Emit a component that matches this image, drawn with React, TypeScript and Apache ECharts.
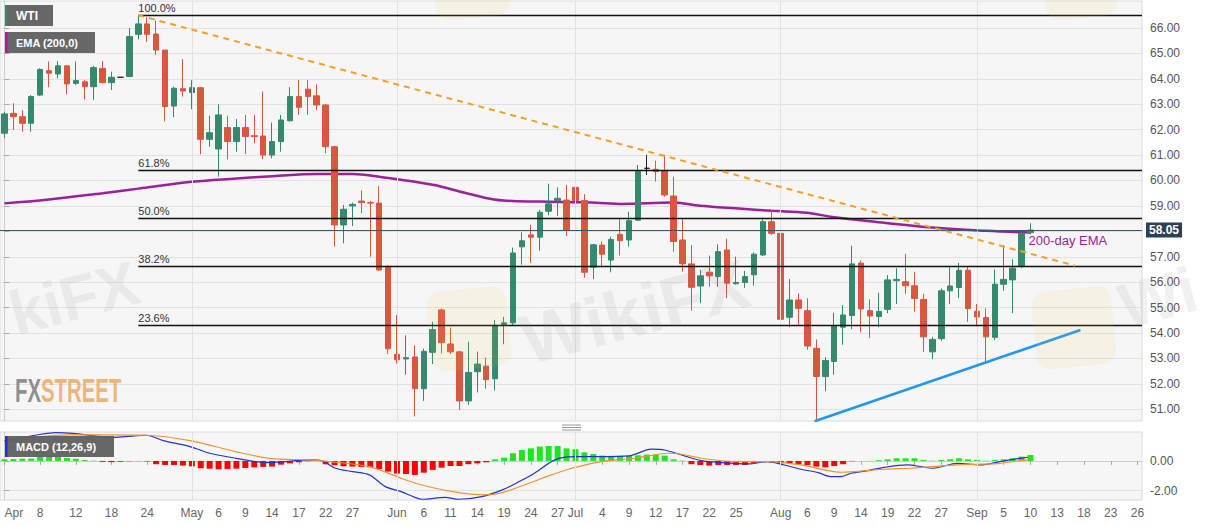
import React, { useEffect, useRef } from 'react';
import * as echarts from 'echarts';

// ---------- calendar (weekdays shown on the chart) ----------
function buildWeekdays(start: string, end: string): string[] {
  const out: string[] = [];
  const d = new Date(start + 'T00:00:00Z');
  const e = new Date(end + 'T00:00:00Z');
  while (d <= e) {
    const wd = d.getUTCDay();
    if (wd !== 0 && wd !== 6) out.push(d.toISOString().slice(0, 10));
    d.setUTCDate(d.getUTCDate() + 1);
  }
  return out;
}
const categories = buildWeekdays('2019-04-02', '2019-09-26');

const tickDates = [
  '2019-04-02', '2019-04-08', '2019-04-12', '2019-04-18', '2019-04-24',
  '2019-05-01', '2019-05-06', '2019-05-09', '2019-05-14', '2019-05-17', '2019-05-22', '2019-05-27',
  '2019-06-03', '2019-06-06', '2019-06-11', '2019-06-14', '2019-06-19', '2019-06-24', '2019-06-27',
  '2019-07-01', '2019-07-04', '2019-07-09', '2019-07-12', '2019-07-17', '2019-07-22', '2019-07-25',
  '2019-08-01', '2019-08-06', '2019-08-09', '2019-08-14', '2019-08-19', '2019-08-22', '2019-08-27',
  '2019-09-02', '2019-09-05', '2019-09-10', '2019-09-13', '2019-09-18', '2019-09-23', '2019-09-26',
];
const monthStarts = ['2019-04-02', '2019-05-01', '2019-06-03', '2019-07-01', '2019-08-01', '2019-09-02'];
const monthNames = ['Jan', 'Feb', 'Mar', 'Apr', 'May', 'Jun', 'Jul', 'Aug', 'Sep', 'Oct', 'Nov', 'Dec'];

// ---------- WTI daily OHLC (Apr 2 .. Sep 10) ----------
const opens = [
  61.86, 62.64, 62.51, 62.25, 63.36, 64.32, 64.19, 64.51, 63.82, 63.88, 63.69, 64.41, 63.85, 64.06, 64.09, 65.75, 66.16, 65.76, 65.13, 62.93,
  63.61, 63.46, 63.65, 61.62, 61.24, 62.08, 61.53, 62.08, 61.76, 61.75, 61.00, 61.53, 62.35, 63.30, 63.59, 63.33, 62.97, 61.33, 58.25, 59.00,
  59.19, 59.13, 59.11, 56.58, 53.16, 52.98, 53.06, 51.81, 53.24, 54.91, 53.57, 53.26, 51.33, 52.48, 52.70, 52.20, 54.34, 54.40, 57.39, 57.86,
  57.77, 58.79, 59.21, 59.23, 59.73, 59.21, 56.59, 57.46, 56.87, 57.88, 57.66, 58.44, 60.48, 60.44, 60.39, 59.39, 57.66, 56.72, 55.85, 56.39,
  56.22, 57.27, 55.94, 55.99, 56.29, 57.07, 58.38, 57.92, 54.62, 55.30, 54.88, 53.40, 52.29, 52.88, 54.23, 54.69, 56.75, 54.88, 54.65, 54.93,
  56.06, 56.02, 55.86, 55.32, 53.26, 53.78, 55.66, 55.79, 56.47, 54.86, 54.61, 53.83, 55.92, 56.09, 56.64, 57.95,
];
const closes = [
  62.62, 62.51, 62.25, 63.30, 64.37, 64.22, 64.51, 63.80, 63.93, 63.69, 64.44, 63.85, 64.06, 64.06, 65.66, 66.16, 65.75, 65.13, 62.91, 63.63,
  63.52, 63.65, 61.62, 61.88, 62.58, 61.53, 62.08, 61.73, 61.73, 61.00, 61.53, 62.38, 63.30, 62.88, 63.30, 62.97, 61.33, 58.25, 58.87, 59.06,
  59.13, 59.11, 56.48, 53.38, 52.95, 53.03, 51.81, 53.28, 54.14, 53.62, 53.26, 51.33, 52.45, 52.78, 52.17, 54.30, 54.40, 57.15, 57.63, 57.77,
  58.75, 59.08, 59.30, 58.05, 59.21, 56.39, 57.47, 57.10, 57.68, 57.63, 58.42, 60.35, 60.48, 60.35, 59.43, 57.60, 56.72, 55.80, 56.25, 56.25,
  57.20, 55.96, 55.99, 56.22, 57.10, 58.38, 57.92, 54.54, 55.30, 54.97, 53.49, 52.29, 52.92, 54.28, 54.71, 56.72, 54.95, 54.67, 54.85, 56.09,
  56.11, 55.86, 55.36, 53.85, 53.75, 55.66, 55.85, 56.47, 54.96, 54.63, 53.85, 55.92, 56.11, 56.55, 57.92, 58.05,
];
const lows = [
  61.66, 61.99, 61.92, 61.92, 63.32, 63.67, 64.02, 63.39, 63.76, 63.19, 63.17, 63.82, 63.56, 64.06, 64.06, 65.55, 65.46, 64.94, 62.32, 62.49,
  63.30, 62.80, 61.03, 61.33, 60.15, 60.83, 61.13, 61.04, 61.46, 60.83, 60.87, 61.13, 62.32, 62.58, 62.58, 62.77, 61.07, 57.40, 57.53, 58.21,
  58.71, 57.00, 56.45, 53.18, 52.80, 52.36, 50.72, 51.33, 52.78, 53.20, 53.17, 50.97, 51.17, 51.66, 51.81, 51.74, 53.56, 54.30, 56.69, 56.75,
  57.24, 58.63, 58.61, 57.82, 58.42, 56.18, 56.12, 56.58, 56.39, 57.05, 57.40, 58.42, 60.22, 59.96, 59.36, 57.20, 56.41, 54.88, 55.17, 55.82,
  55.82, 55.37, 55.90, 55.78, 55.86, 57.03, 57.86, 53.66, 54.23, 54.26, 53.34, 50.53, 51.71, 52.36, 53.54, 54.15, 54.02, 53.80, 54.23, 54.78,
  55.14, 55.54, 54.84, 53.26, 52.97, 53.69, 55.14, 55.37, 54.44, 54.26, 52.84, 53.72, 55.66, 54.78, 56.55, 57.88,
];
const highs = [
  62.70, 63.04, 62.77, 63.36, 64.41, 64.68, 64.70, 64.53, 64.68, 63.95, 64.51, 64.70, 64.28, 64.06, 65.99, 66.51, 66.42, 66.29, 65.13, 63.69,
  64.77, 63.95, 63.67, 62.55, 62.99, 62.55, 62.42, 62.58, 62.58, 63.50, 62.28, 62.58, 63.67, 63.95, 63.95, 63.78, 63.01, 61.36, 59.04, 59.13,
  59.61, 59.20, 59.78, 56.67, 54.71, 53.91, 53.52, 53.39, 54.44, 54.97, 54.22, 53.30, 53.66, 53.27, 53.04, 54.51, 54.64, 57.36, 57.96, 58.26,
  58.84, 59.87, 59.73, 59.82, 60.35, 59.46, 57.51, 57.60, 57.79, 58.51, 58.77, 60.61, 61.01, 60.78, 61.01, 60.15, 58.51, 57.46, 56.48, 57.05,
  57.49, 57.71, 57.00, 56.45, 57.17, 58.47, 58.84, 58.03, 56.12, 55.56, 55.37, 53.75, 53.05, 54.80, 55.10, 57.43, 56.85, 55.33, 55.59, 56.28,
  56.55, 57.11, 56.41, 55.54, 53.85, 55.75, 56.64, 56.76, 56.60, 55.14, 54.97, 56.50, 57.46, 56.90, 58.05, 58.32,
];
const dojiIdx = [13, 72];
const lastPrice = 58.05;

// 200-day EMA (read at selected days; index = trading-day position)
const emaIdx = [0, 5, 11, 15, 21, 26, 30, 35, 39, 42, 48, 52, 56, 60, 65, 69, 75, 78, 83, 86, 90, 93, 98, 104, 110, 115];
const emaVals = [59.10, 59.25, 59.50, 59.68, 59.95, 60.08, 60.17, 60.26, 60.26, 60.15, 59.83, 59.48, 59.21, 59.17, 59.14, 59.08, 59.13, 59.01, 58.88, 58.81, 58.73, 58.55, 58.36, 58.15, 58.02, 57.95];

// Fibonacci retracement between Apr 23 high and Aug 7 low
const fibHigh = 66.50;
const fibLow = 50.53;
const fibStart = 15;
const fibLevels = [1, 0.618, 0.5, 0.382, 0.236, 0];
const fibLabels = ['100.0%', '61.8%', '50.0%', '38.2%', '23.6%', '0.0%'];

// trend lines [index, price]
const downTrend = [[15, 66.5], [120, 56.65]];
const upTrend = [[90.8, 50.53], [120.6, 54.12]];

// MACD (12,26,9)
const histVals = [
  0.12, 0.13, 0.15, 0.16, 0.30, 0.32, 0.30, 0.20, 0.15, 0.06, 0.02, -0.06, -0.08, -0.05, -0.02, -0.01, -0.03, -0.22, -0.27, -0.27,
  -0.31, -0.36, -0.49, -0.52, -0.56, -0.54, -0.52, -0.47, -0.43, -0.40, -0.38, -0.25, -0.16, -0.09, -0.02, 0.00, -0.22, -0.29, -0.36, -0.38,
  -0.40, -0.43, -0.54, -0.72, -0.85, -0.88, -0.94, -0.79, -0.60, -0.45, -0.34, -0.34, -0.22, -0.16, -0.09, 0.11, 0.22, 0.52, 0.74, 0.85,
  0.97, 1.01, 1.01, 0.85, 0.79, 0.58, 0.47, 0.36, 0.34, 0.34, 0.34, 0.38, 0.43, 0.43, 0.36, 0.11, 0.02, -0.22, -0.27, -0.31,
  -0.27, -0.27, -0.27, -0.27, -0.16, 0.00, -0.11, -0.16, -0.16, -0.22, -0.27, -0.38, -0.43, -0.34, -0.22, -0.02, 0.00, 0.01, 0.05, 0.11,
  0.18, 0.18, 0.18, 0.07, 0.02, 0.07, 0.11, 0.18, 0.11, 0.07, 0.02, 0.07, 0.11, 0.18, 0.29, 0.40,
];
const macdIdx = [0, 3.6, 5.8, 7.7, 10.3, 12.2, 13.6, 15.9, 17.8, 20.8, 23, 25.9, 28.1, 29.7, 31.5, 34.2, 35.6, 37.1, 39, 40.9, 42.7, 44.6, 46, 46.8, 49.4, 50.9, 53.5, 55.8, 57.7, 59.4, 61.7, 63.9, 66.9, 70, 72.5, 74, 75.9, 78.1, 80.3, 83.4, 85.6, 87.4, 89.3, 91.2, 92.6, 93.8, 94.9, 96.8, 98.6, 101.2, 102.7, 104.1, 106.8, 109.4, 111.6, 113.1, 114.7];
const macdVals = [1.37, 1.75, 1.91, 1.86, 1.68, 1.59, 1.64, 1.73, 1.37, 0.97, 0.52, 0.18, -0.04, -0.11, -0.04, 0.07, 0.0, -0.49, -0.72, -0.94, -1.73, -2.1, -2.45, -2.58, -2.45, -2.58, -2.4, -1.95, -1.39, -0.83, 0.07, 0.29, 0.29, 0.34, 0.79, 0.74, 0.4, 0.02, -0.11, -0.2, -0.04, -0.27, -0.56, -0.79, -1.05, -1.05, -0.83, -0.65, -0.43, -0.27, -0.38, -0.49, -0.16, -0.27, -0.04, 0.11, 0.25];
const sigIdx = [0, 3.6, 7.3, 10.9, 15.9, 20.8, 25.9, 29.7, 34.2, 35.6, 40.9, 44.6, 46.8, 50.2, 53.9, 55.8, 58.8, 61.3, 63.6, 66.9, 70.6, 74.4, 75.9, 78.1, 81.8, 85.6, 89.3, 92.3, 93.8, 95.2, 98.6, 101.6, 104.1, 106.8, 109.4, 111.6, 113.8, 114.7];
const sigVals = [1.23, 1.59, 1.75, 1.75, 1.73, 1.37, 0.63, 0.18, 0.07, 0.0, -0.38, -1.2, -1.62, -2.07, -2.29, -2.13, -1.5, -0.94, -0.49, -0.04, 0.18, 0.52, 0.45, 0.18, -0.04, -0.04, -0.27, -0.65, -0.76, -0.72, -0.56, -0.49, -0.38, -0.27, -0.22, -0.16, 0.02, 0.07];

const priceTicks = [51, 52, 53, 54, 55, 56, 57, 58, 59, 60, 61, 62, 63, 64, 65, 66];
const macdTicks = [-2, 0];

const GREEN = '#35896f';
const RED = '#d9573f';
const PURPLE = '#9c1f9c';
const FONT = 'Arial, "Liberation Sans", sans-serif';

export default function App() {
  const ref = useRef<HTMLDivElement>(null);
  useEffect(() => {
    if (!ref.current) return;
    const chart = echarts.init(ref.current, undefined, { renderer: 'svg' });
    const tickSet = new Set(tickDates);
    const monthSet = new Set(monthStarts);
    const lastCat = categories.length - 0.5;
    const monthIdx = monthStarts.slice(1).map((d) => categories.indexOf(d));

    const candleData = opens.map((o, i) => {
      const item: any = { value: [o, closes[i], lows[i], highs[i]] };
      if (dojiIdx.includes(i)) {
        item.itemStyle = { color: '#222', color0: '#222', borderColor: '#222', borderColor0: '#222' };
      }
      return item;
    });

    const fibPrice = (lv: number) => fibLow + lv * (fibHigh - fibLow);
    const labelInterval = (_: number, v: string) => tickSet.has(v);
    const wm = (text: string, x: number, y: number, size: number) => ({
      type: 'text', x, y, rotation: 0.26, z: 20, silent: true,
      style: { text, font: `bold ${size}px Arial`, fill: 'rgba(120,120,120,0.10)', align: 'center', verticalAlign: 'middle', textAlign: 'center', textVerticalAlign: 'middle' },
    });

    const option: any = {
      animation: false,
      backgroundColor: '#ffffff',
      textStyle: { fontFamily: FONT },
      grid: [
        { left: -3.3, right: 65, top: 1, height: 420, show: true, backgroundColor: '#f6f6f6', borderColor: '#dcdcdc', borderWidth: 1 },
        { left: -3.3, right: 65, top: 432, height: 68, show: true, backgroundColor: '#f6f6f6', borderColor: '#dcdcdc', borderWidth: 1 },
      ],
      xAxis: [
        { type: 'category', gridIndex: 0, data: categories, axisLine: { show: false }, axisTick: { show: false }, axisLabel: { show: false }, splitLine: { show: false } },
        { type: 'value', gridIndex: 0, min: -0.5, max: lastCat, show: false },
        {
          type: 'category', gridIndex: 1, data: categories,
          axisLine: { show: true, lineStyle: { color: '#cccccc' } },
          axisTick: { show: true, alignWithLabel: true, interval: labelInterval, length: 4, lineStyle: { color: '#aaaaaa' } },
          axisLabel: {
            interval: labelInterval, color: '#666', fontSize: 12, margin: 7, alignMinLabel: 'left',
            formatter: (v: string) => {
              if (monthSet.has(v)) return monthNames[parseInt(v.slice(5, 7), 10) - 1];
              return String(parseInt(v.slice(8, 10), 10));
            },
          },
          splitLine: { show: false },
        },
        { type: 'value', gridIndex: 1, min: -0.5, max: lastCat, show: false },
      ],
      yAxis: [
        {
          type: 'value', gridIndex: 0, position: 'right', min: 50.54, max: 67.06, scale: true,
          axisLine: { show: true, lineStyle: { color: '#cccccc' } },
          axisTick: { show: true, length: 5, customValues: priceTicks, lineStyle: { color: '#aaaaaa' } },
          axisLabel: { customValues: priceTicks, formatter: (v: number) => v.toFixed(2), color: '#555', fontSize: 12, margin: 8 },
          splitLine: { show: true, lineStyle: { color: '#e2e2e2' } },
        },
        {
          type: 'value', gridIndex: 1, position: 'right', min: -2.63, max: 1.95, scale: true,
          axisLine: { show: true, lineStyle: { color: '#cccccc' } },
          axisTick: { show: true, length: 5, customValues: macdTicks, lineStyle: { color: '#aaaaaa' } },
          axisLabel: { customValues: macdTicks, formatter: (v: number) => v.toFixed(2), color: '#555', fontSize: 12, margin: 8 },
          splitLine: { show: true, lineStyle: { color: '#e2e2e2' } },
        },
      ],
      series: [
        {
          name: 'monthLinesMain', type: 'line', xAxisIndex: 1, yAxisIndex: 0, data: [], z: 1, silent: true,
          markLine: { silent: true, symbol: ['none', 'none'], label: { show: false }, lineStyle: { color: '#e2e2e2', width: 1, type: 'solid' }, data: monthIdx.map((i) => ({ xAxis: i })) },
        },
        {
          name: 'monthLinesMacd', type: 'line', xAxisIndex: 3, yAxisIndex: 1, data: [], z: 1, silent: true,
          markLine: { silent: true, symbol: ['none', 'none'], label: { show: false }, lineStyle: { color: '#e2e2e2', width: 1, type: 'solid' }, data: monthIdx.map((i) => ({ xAxis: i })) },
        },
        {
          name: 'fib', type: 'line', xAxisIndex: 1, yAxisIndex: 0, data: [], z: 2, silent: true,
          markLine: {
            silent: true, symbol: ['none', 'none'],
            lineStyle: { color: '#111', width: 1.3, type: 'solid' },
            label: { show: true, position: 'insideStartTop', formatter: '{b}', color: '#333', fontSize: 11, distance: [0, 2] },
            data: fibLevels.map((lv, k) => [
              { coord: [fibStart, fibPrice(lv)], name: fibLabels[k] },
              { coord: [lastCat, fibPrice(lv)] },
            ]),
          },
        },
        {
          name: 'EMA', type: 'line', xAxisIndex: 1, yAxisIndex: 0, z: 3,
          data: emaIdx.map((x, k) => [x, emaVals[k]]), smooth: 0.4, symbol: 'none',
          lineStyle: { color: PURPLE, width: 2.5 },
          endLabel: { show: true, formatter: '200-day EMA', color: PURPLE, fontSize: 13, distance: 0, offset: [-2, 8] },
        },
        {
          name: 'WTI', type: 'candlestick', xAxisIndex: 0, yAxisIndex: 0, z: 4, barWidth: 6,
          data: candleData,
          itemStyle: { color: GREEN, color0: RED, borderColor: GREEN, borderColor0: RED, borderWidth: 1 },
          markLine: {
            silent: true, symbol: ['none', 'none'],
            lineStyle: { color: '#3f566b', width: 1, type: 'solid' },
            label: { show: true, position: 'end', formatter: lastPrice.toFixed(2), backgroundColor: '#2b3f55', color: '#fff', fontWeight: 'bold', fontSize: 12, padding: [2, 3, 1, 3], distance: 4 },
            data: [{ yAxis: lastPrice }],
          },
        },
        {
          name: 'down', type: 'line', xAxisIndex: 1, yAxisIndex: 0, z: 5, data: downTrend, symbol: 'none',
          lineStyle: { color: '#f5a021', width: 2, type: [6, 5] },
        },
        {
          name: 'up', type: 'line', xAxisIndex: 1, yAxisIndex: 0, z: 5, data: upTrend, symbol: 'none',
          lineStyle: { color: '#2196f3', width: 2.5 },
        },
        {
          name: 'hist', type: 'bar', xAxisIndex: 2, yAxisIndex: 1, z: 2, barWidth: 6,
          data: histVals.map((v) => ({ value: v, itemStyle: { color: v >= 0 ? '#1ee61e' : '#ff0000' } })),
        },
        {
          name: 'macd', type: 'line', xAxisIndex: 3, yAxisIndex: 1, z: 3, smooth: 0.3, symbol: 'none',
          data: macdIdx.map((x, k) => [x, macdVals[k]]), lineStyle: { color: '#2233cc', width: 1.2 },
        },
        {
          name: 'signal', type: 'line', xAxisIndex: 3, yAxisIndex: 1, z: 3, smooth: 0.3, symbol: 'none',
          data: sigIdx.map((x, k) => [x, sigVals[k]]), lineStyle: { color: '#f5922f', width: 1.2 },
        },
      ],
      graphic: [
        // watermarks
        { type: 'rect', x: 425, y: 293, z: 20, silent: true, rotation: 0.1, shape: { width: 80, height: 80, r: 14 }, style: { fill: 'rgba(240,195,80,0.10)' } },
        { type: 'rect', x: 1030, y: 293, z: 20, silent: true, rotation: 0.1, shape: { width: 80, height: 78, r: 14 }, style: { fill: 'rgba(240,195,80,0.10)' } },
        { type: 'rect', x: 430, y: -50, z: 20, silent: true, rotation: 0.1, shape: { width: 75, height: 72, r: 14 }, style: { fill: 'rgba(240,195,80,0.10)' } },
        { type: 'rect', x: 1040, y: -50, z: 20, silent: true, rotation: 0.1, shape: { width: 72, height: 72, r: 14 }, style: { fill: 'rgba(240,195,80,0.10)' } },
        wm('WikiFX', 635, 312, 70),
        wm('kiFX', 74, 298, 62),
        wm('Wi', 1158, 298, 64),
        { type: 'text', x: 15, y: 390, scaleX: 0.6, z: 20, silent: true, style: { text: 'FX', font: 'bold 34px Arial', fill: 'rgba(125,125,125,0.85)', verticalAlign: 'middle', textVerticalAlign: 'middle' } },
        { type: 'text', x: 41, y: 390, scaleX: 0.6, z: 20, silent: true, style: { text: 'STREET', font: 'bold 34px Arial', fill: 'rgba(236,170,100,0.85)', verticalAlign: 'middle', textVerticalAlign: 'middle' } },
        // pane separator handle
        { type: 'line', z: 20, silent: true, shape: { x1: 562, y1: 425, x2: 581, y2: 425 }, style: { stroke: '#999', lineWidth: 1 } },
        { type: 'line', z: 20, silent: true, shape: { x1: 562, y1: 427.5, x2: 581, y2: 427.5 }, style: { stroke: '#999', lineWidth: 1 } },
        { type: 'line', z: 20, silent: true, shape: { x1: 562, y1: 430, x2: 581, y2: 430 }, style: { stroke: '#999', lineWidth: 1 } },
        // legend boxes
        { type: 'rect', z: 30, silent: true, shape: { x: 5, y: 5, width: 48, height: 21 }, style: { fill: 'rgba(95,95,95,0.95)' } },
        { type: 'rect', z: 31, silent: true, shape: { x: 5, y: 5, width: 2.5, height: 21 }, style: { fill: GREEN } },
        { type: 'text', z: 31, silent: true, x: 16, y: 15.5, style: { text: 'WTI', font: `bold 12px ${FONT}`, fill: '#fff', verticalAlign: 'middle', textVerticalAlign: 'middle' } },
        { type: 'rect', z: 30, silent: true, shape: { x: 5, y: 32, width: 90, height: 21 }, style: { fill: 'rgba(95,95,95,0.95)' } },
        { type: 'rect', z: 31, silent: true, shape: { x: 5, y: 32, width: 2.5, height: 21 }, style: { fill: PURPLE } },
        { type: 'text', z: 31, silent: true, x: 16, y: 42.5, style: { text: 'EMA (200,0)', font: `bold 11px ${FONT}`, fill: '#fff', verticalAlign: 'middle', textVerticalAlign: 'middle' } },
        { type: 'rect', z: 30, silent: true, shape: { x: 5, y: 436, width: 109, height: 21 }, style: { fill: 'rgba(95,95,95,0.95)' } },
        { type: 'rect', z: 31, silent: true, shape: { x: 5, y: 436, width: 2.5, height: 21 }, style: { fill: '#2233cc' } },
        { type: 'text', z: 31, silent: true, x: 16, y: 446.5, style: { text: 'MACD (12,26,9)', font: `bold 11px ${FONT}`, fill: '#fff', verticalAlign: 'middle', textVerticalAlign: 'middle' } },
      ],
    };
    chart.setOption(option);
    return () => chart.dispose();
  }, []);
  return <div ref={ref} style={{ position: 'fixed', left: 0, top: 0, width: 1207, height: 526 }} />;
}
